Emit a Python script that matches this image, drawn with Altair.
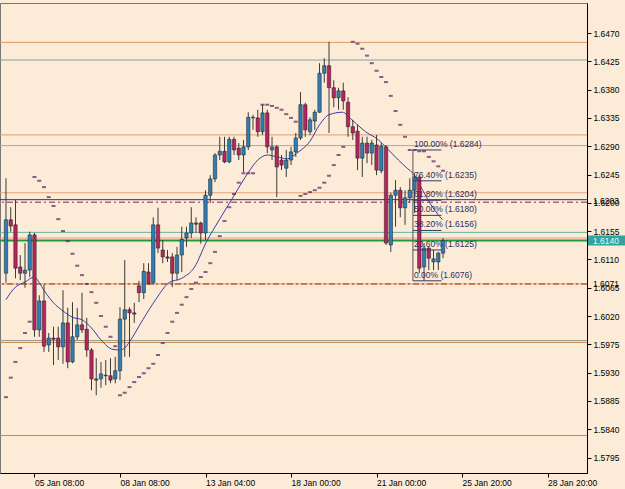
import altair as alt
import pandas as pd

# ---------------- data ----------------
bar_open = [1.6088, 1.6173, 1.6165, 1.6098, 1.6088, 1.6093, 1.6149, 1.5998, 1.6044, 1.5974,
            1.5985, 1.5985, 1.5971, 1.6009, 1.5947, 1.5987, 1.6006, 1.5999, 1.5966, 1.5920,
            1.5920, 1.5926, 1.5925, 1.5920, 1.5933, 1.6015, 1.6030, 1.6025, 1.6068, 1.6057,
            1.6090, 1.6073, 1.6165, 1.6125, 1.6114, 1.6114, 1.6088, 1.6117, 1.6144, 1.6152,
            1.6168, 1.6168, 1.6152, 1.6212, 1.6238, 1.6276, 1.6282, 1.6265, 1.6301, 1.6287,
            1.6276, 1.6289, 1.6336, 1.6335, 1.6313, 1.6343, 1.6284, 1.6289, 1.6268, 1.6255,
            1.6268, 1.6281, 1.6303, 1.6356, 1.6313, 1.6330, 1.6344, 1.6406, 1.6418, 1.6383,
            1.6367, 1.6378, 1.6360, 1.6321, 1.6314, 1.6271, 1.6295, 1.6279, 1.6292, 1.6251,
            1.6289, 1.6133, 1.6212, 1.6220, 1.6192, 1.6208, 1.6220, 1.6241, 1.6098, 1.6128,
            1.6106, 1.6106, 1.6120]
bar_high = [1.6239, 1.6193, 1.6205, 1.6117, 1.6136, 1.6154, 1.6152, 1.6053, 1.6070, 1.5993,
            1.6003, 1.6003, 1.6061, 1.6033, 1.6042, 1.6033, 1.6057, 1.6017, 1.5969, 1.5953,
            1.5947, 1.5950, 1.5953, 1.5955, 1.6034, 1.6109, 1.6034, 1.6041, 1.6076, 1.6104,
            1.6104, 1.6177, 1.6192, 1.6141, 1.6125, 1.6120, 1.6130, 1.6162, 1.6162, 1.6193,
            1.6177, 1.6170, 1.6220, 1.6244, 1.6279, 1.6305, 1.6305, 1.6305, 1.6305, 1.6295,
            1.6300, 1.6344, 1.6340, 1.6348, 1.6356, 1.6348, 1.6305, 1.6292, 1.6276, 1.6284,
            1.6289, 1.6311, 1.6376, 1.6359, 1.6336, 1.6348, 1.6422, 1.6430, 1.6456, 1.6395,
            1.6383, 1.6391, 1.6368, 1.6332, 1.6324, 1.6305, 1.6305, 1.6300, 1.6308, 1.6295,
            1.6292, 1.6216, 1.6236, 1.6225, 1.6220, 1.6239, 1.6247, 1.6244, 1.6136, 1.6130,
            1.6125, 1.6122, 1.6144]
bar_low = [1.6073, 1.6154, 1.6080, 1.6077, 1.6065, 1.6082, 1.5987, 1.5987, 1.5963, 1.5963,
           1.5942, 1.5950, 1.5944, 1.5937, 1.5945, 1.5982, 1.5993, 1.5955, 1.5902, 1.5894,
           1.5906, 1.5910, 1.5913, 1.5913, 1.5918, 1.5955, 1.5955, 1.6009, 1.6042, 1.6047,
           1.6070, 1.6070, 1.6120, 1.6104, 1.6106, 1.6066, 1.6077, 1.6090, 1.6130, 1.6144,
           1.6152, 1.6135, 1.6141, 1.6200, 1.6233, 1.6268, 1.6263, 1.6263, 1.6276, 1.6268,
           1.6249, 1.6284, 1.6316, 1.6305, 1.6308, 1.6279, 1.6268, 1.6209, 1.6252, 1.6241,
           1.6260, 1.6273, 1.6300, 1.6305, 1.6308, 1.6316, 1.6343, 1.6391, 1.6311, 1.6352,
           1.6348, 1.6348, 1.6305, 1.6300, 1.6252, 1.6241, 1.6263, 1.6260, 1.6244, 1.6247,
           1.6133, 1.6122, 1.6162, 1.6177, 1.6165, 1.6200, 1.6184, 1.6088, 1.6076, 1.6093,
           1.6093, 1.6093, 1.6112]
bar_close = [1.6173, 1.6163, 1.6096, 1.6088, 1.6093, 1.6149, 1.5998, 1.6044, 1.5972, 1.5985,
             1.5983, 1.5971, 1.6009, 1.5947, 1.5987, 1.6006, 1.5998, 1.5966, 1.5920, 1.5918,
             1.5928, 1.5925, 1.5918, 1.5933, 1.6015, 1.6030, 1.6025, 1.6023, 1.6057, 1.6091,
             1.6071, 1.6165, 1.6128, 1.6114, 1.6112, 1.6088, 1.6117, 1.6142, 1.6152, 1.6168,
             1.6166, 1.6152, 1.6212, 1.6238, 1.6276, 1.6282, 1.6265, 1.6301, 1.6284, 1.6276,
             1.6289, 1.6336, 1.6335, 1.6313, 1.6343, 1.6289, 1.6289, 1.6257, 1.6260, 1.6268,
             1.6281, 1.6303, 1.6356, 1.6316, 1.6332, 1.6344, 1.6406, 1.6418, 1.6383, 1.6367,
             1.6378, 1.6362, 1.6321, 1.6311, 1.6271, 1.6295, 1.6279, 1.6295, 1.6252, 1.6290,
             1.6136, 1.6212, 1.6220, 1.6192, 1.6208, 1.6220, 1.6241, 1.6096, 1.6128, 1.6112,
             1.6111, 1.6120, 1.6140]

# moving average (position in bars, value)
ma_pos = [0, 2, 4, 6, 7, 8, 10, 12, 14, 16, 18, 20, 22.5, 24, 25, 26, 28.8, 31.5, 34.3, 37,
          39.7, 42.2, 44.9, 47.8, 50.9, 53, 55, 57.1, 59.2, 61.2, 64, 66, 68, 70.8, 72.8,
          75.7, 78.4, 79.9, 82.6, 84.6, 85.7, 87.7, 89.8, 91.9]
ma_val = [1.6046, 1.6066, 1.6074, 1.6082, 1.6073, 1.6061, 1.6041, 1.6028, 1.6018, 1.6014,
          1.6001, 1.5982, 1.5967, 1.5966, 1.5969, 1.5979, 1.6014, 1.6046, 1.6073, 1.6080,
          1.6098, 1.6138, 1.6173, 1.6209, 1.6247, 1.6268, 1.6276, 1.6273, 1.6270, 1.6279,
          1.6298, 1.6324, 1.6340, 1.6344, 1.6332, 1.6313, 1.6300, 1.6289, 1.6268, 1.6254,
          1.6247, 1.6220, 1.6193, 1.6173]

# parabolic SAR
sar_bar = list(range(0, 53)) + list(range(54, 72)) + list(range(73, 93))
sar_val = [1.5891, 1.5922, 1.5947, 1.5969, 1.5993, 1.6011, 1.6241, 1.6235, 1.6225, 1.6209,
           1.6195, 1.6174, 1.6155, 1.6139, 1.6119, 1.6100, 1.6085, 1.6071, 1.6058, 1.6041,
           1.6020, 1.6003, 1.5987, 1.5972, 1.5894, 1.5898, 1.5907, 1.5915, 1.5923, 1.5929,
           1.5937, 1.5944, 1.5958, 1.5977, 1.5993, 1.6011, 1.6025, 1.6038, 1.6050, 1.6063,
           1.6073, 1.6082, 1.6090, 1.6104, 1.6122, 1.6147, 1.6171, 1.6193, 1.6214, 1.6232,
           1.6247, 1.6247, 1.6247,
           1.6356, 1.6356, 1.6354, 1.6351, 1.6348, 1.6341, 1.6335, 1.6329,
           1.6211, 1.6214, 1.6217, 1.6220, 1.6224, 1.6232, 1.6243, 1.6260, 1.6276, 1.6289,
           1.6456, 1.6453, 1.6445, 1.6434, 1.6422, 1.6410, 1.6400, 1.6392, 1.6370, 1.6346,
           1.6324, 1.6305, 1.6284, 1.6284, 1.6282, 1.6282, 1.6273, 1.6266, 1.6258, 1.6251]

# Fibonacci retracement
fib_levels = [1.6284, 1.6235, 1.6204, 1.6180, 1.6156, 1.6125, 1.6076]
fib_labels = ["100.00% (1.6284)", "76.40% (1.6235)", "61.80% (1.6204)", "50.00% (1.6180)",
              "38.20% (1.6156)", "23.60% (1.6125)", "0.00% (1.6076)"]
fib_start = 85.66
fib_end = 91.66

# horizontal lines
hline_price = [1.6455, 1.6427, 1.6308, 1.6291, 1.6216, 1.6205, 1.6153, 1.6144, 1.6071,
               1.5981, 1.5978, 1.5830]
hline_color = ["#D9A070", "#8AA39A", "#D9A070", "#97B0A8", "#E4A57C", "#3A2F7A", "#62B3A3",
               "#E8A286", "#E39050", "#8E9E94", "#C98A4C", "#A89072"]
dash_price = [1.6201, 1.6071]
dash_color = ["#7A2A5A", "#B52A10"]
green_price = 1.6140

y_ticks = [1.6470, 1.6425, 1.6380, 1.6335, 1.6290, 1.6245, 1.6200, 1.6155, 1.6110,
           1.6065, 1.6020, 1.5975, 1.5930, 1.5885, 1.5840, 1.5795]
x_tick_pos = [6, 24, 42, 60, 78, 96, 114]
x_tick_labels = ["05 Jan 08:00", "08 Jan 08:00", "13 Jan 04:00", "18 Jan 00:00",
                 "21 Jan 00:00", "25 Jan 20:00", "28 Jan 20:00"]
extra_labels = ["1.6203", "1.6071"]
extra_label_price = [1.6203, 1.6071]
current_price = 1.6140

# ---------------- chart ----------------
FONT = "Liberation Sans"
FS = 8.5
xs = alt.Scale(domain=[-0.207, 121.25], nice=False, zero=False)
ys = alt.Scale(domain=[1.57704, 1.65177], nice=False, zero=False)

lab_expr = "[" + ",".join("'%s'" % s for s in x_tick_labels) + "][indexof([" + \
    ",".join(str(v) for v in x_tick_pos) + "], datum.value)]"

x_axis = alt.Axis(values=x_tick_pos, labelExpr=lab_expr, grid=False,
                  tickSize=4, labelPadding=1, labelAlign="left", labelFont=FONT,
                  labelFontSize=FS, labelColor="#000", tickColor="#000", domainColor="#000",
                  title=None, labelFlush=False, labelOverlap=False, labelBound=False)
y_axis = alt.Axis(orient="right", values=y_ticks, format=".4f", grid=False, tickSize=4,
                  labelPadding=2, labelFont=FONT, labelFontSize=FS, labelColor="#000",
                  tickColor="#000", domainColor="#000", title=None, labelOverlap=False,
                  labelFlush=False, labelBound=False)


def X(f):
    return alt.X(f, scale=xs, axis=x_axis)


def Y(f):
    return alt.Y(f, scale=ys, axis=y_axis)


candles = pd.DataFrame({"i": list(range(len(bar_open))), "o": bar_open, "h": bar_high,
                        "l": bar_low, "c": bar_close})
candles["dir"] = ["up" if c >= o else "down" for o, c in zip(bar_open, bar_close)]

hl = pd.DataFrame({"p": hline_price, "col": hline_color})
hlines = alt.Chart(hl).mark_rule(strokeWidth=1).encode(
    y=Y("p:Q"), color=alt.Color("col:N", scale=None))
dl = pd.DataFrame({"p": dash_price, "col": dash_color})
dlines = alt.Chart(dl).mark_rule(strokeWidth=1, strokeDash=[6, 3, 2, 3]).encode(
    y=Y("p:Q"), color=alt.Color("col:N", scale=None))
gline = alt.Chart(pd.DataFrame({"p": [green_price]})).mark_rule(
    strokeWidth=2, color="#1E9A3C").encode(y=Y("p:Q"))

wicks = alt.Chart(candles).mark_rule(color="#3a3a3a", strokeWidth=1).encode(
    x=X("i:Q"), y=Y("l:Q"), y2="h:Q")
bodies = alt.Chart(candles).mark_bar(size=3.4, stroke="#1a1a1a", strokeWidth=0.5).encode(
    x=X("i:Q"), y=Y("o:Q"), y2="c:Q",
    color=alt.Color("dir:N", scale=alt.Scale(domain=["up", "down"],
                                             range=["#2F7EB5", "#B8245F"]), legend=None))

ma = alt.Chart(pd.DataFrame({"x": ma_pos, "v": ma_val})).mark_line(
    color="#3B3BA8", strokeWidth=1, interpolate="monotone").encode(x=X("x:Q"), y=Y("v:Q"))

sar = alt.Chart(pd.DataFrame({"x": sar_bar, "v": sar_val})).mark_tick(
    orient="horizontal", size=4, thickness=2, color="#5A2060").encode(x=X("x:Q"), y=Y("v:Q"))

fib = pd.DataFrame({"p": fib_levels, "t": fib_labels, "x0": fib_start, "x1": fib_end})
fib_lines = alt.Chart(fib).mark_rule(color="#3A3A6A", strokeWidth=1).encode(
    x=X("x0:Q"), x2="x1:Q", y=Y("p:Q"))
fib_vert = alt.Chart(pd.DataFrame({"x": [fib_start], "a": [fib_levels[0]],
                                   "b": [fib_levels[-1]]})).mark_rule(
    color="#555", strokeWidth=1).encode(x=X("x:Q"), y=Y("a:Q"), y2="b:Q")
fib_text = alt.Chart(fib).mark_text(align="left", baseline="bottom", dx=1, dy=-1,
                                    font=FONT, fontSize=FS, color="#2E2E5A").encode(
    x=X("x0:Q"), y=Y("p:Q"), text="t:N")

extra = alt.Chart(pd.DataFrame({"p": extra_label_price, "t": extra_labels})).mark_text(
    align="left", baseline="middle", font=FONT, fontSize=FS, color="#000").encode(
    x=alt.value(593), y=Y("p:Q"), text="t:N")

cur = pd.DataFrame({"p": [current_price], "hi": [current_price + 0.0008],
                    "lo": [current_price - 0.0008], "t": ["%.4f" % current_price]})
cur_box = alt.Chart(cur).mark_rect(color="#2FA4A0").encode(
    x=alt.value(588), x2=alt.value(625), y=Y("hi:Q"), y2="lo:Q")
cur_text = alt.Chart(cur).mark_text(align="left", baseline="middle", font=FONT,
                                    fontSize=FS, color="#EAF8F5").encode(
    x=alt.value(593), y=Y("p:Q"), text="t:N")

chart = alt.layer(hlines, dlines, gline, ma, wicks, bodies, sar, fib_lines, fib_vert,
                  fib_text, extra, cur_box, cur_text).properties(
    width=587, height=470, background="#FCEBD6",
    padding={"left": 0, "top": 3, "right": 38, "bottom": 16},
    autosize=alt.AutoSizeParams(type="none"),
).configure_view(stroke="#777777", strokeWidth=1).configure_axis(labelOverlap=False)

chart.save("out.html", embed_options={"renderer": "svg", "actions": False})
